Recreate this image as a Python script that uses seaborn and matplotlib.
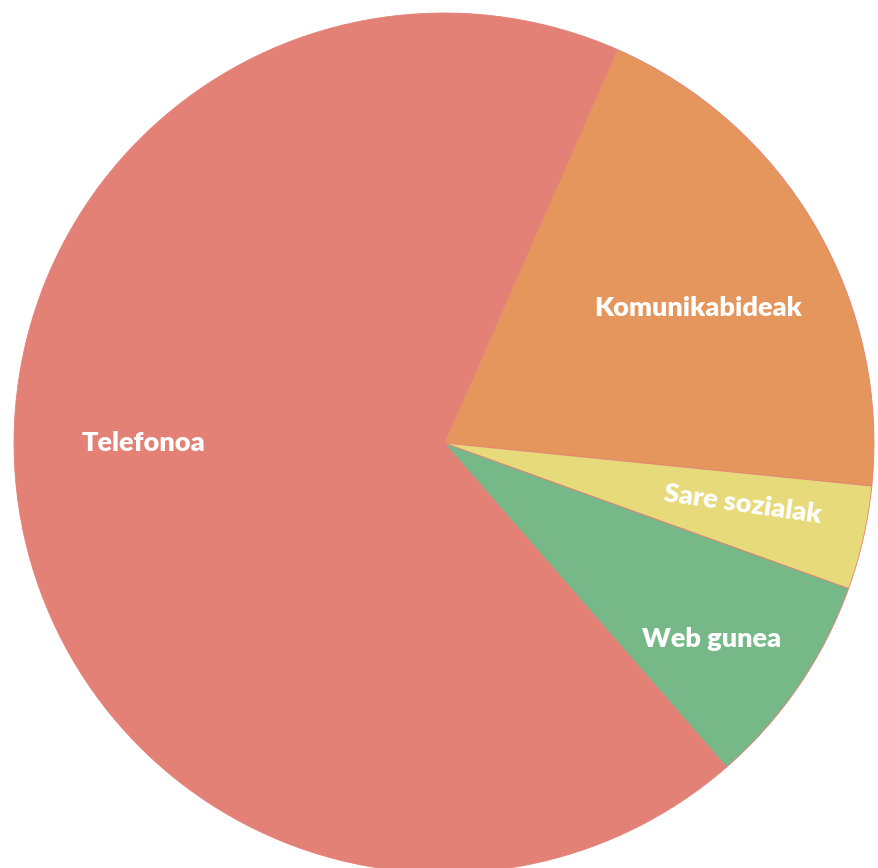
import matplotlib
matplotlib.use("Agg")
import matplotlib.pyplot as plt
import numpy as np
import seaborn as sns

sns.set_style("white")
plt.rcParams["font.family"] = ["Lato", "DejaVu Sans"]

# data (shares, clockwise from the top-right cut)
labels = ["Komunikabideak", "Sare sozialak", "Web gunea", "Telefonoa"]
values = [20.0, 3.9, 8.1, 68.0]
colors = ["#E5965D", "#E6DA7A", "#76B888", "#E48176"]

# label placement: (angle in degrees, distance as share of radius, rotation)
label_pos = [(28, 0.67, 0), (-11.6, 0.71, -8), (-36.2, 0.77, 0), (180, 0.70, 0)]

fig = plt.figure(figsize=(8.79, 8.68), dpi=100)
ax = fig.add_axes([0, 0, 1, 1])

pal = sns.color_palette(colors)
wedges, texts = ax.pie(values, labels=labels, colors=pal,
                       startangle=66.25, counterclock=False,
                       labeldistance=0.7,
                       wedgeprops={"edgecolor": "#E48176", "linewidth": 0.6})

for t, (ang, dist, rot) in zip(texts, label_pos):
    a = np.deg2rad(ang)
    t.set_position((dist * np.cos(a), dist * np.sin(a)))
    t.set_ha("center")
    t.set_va("center")
    t.set_rotation(rot)
    t.set_color("white")
    t.set_fontweight("heavy")
    t.set_fontsize(19.5)

ax.set_aspect("auto")
ax.set_xlim(-444 / 430, (879 - 444) / 430)
ax.set_ylim(-(868 - 443) / 430, 443 / 430)
ax.axis("off")

fig.savefig("out.png", dpi=100)
